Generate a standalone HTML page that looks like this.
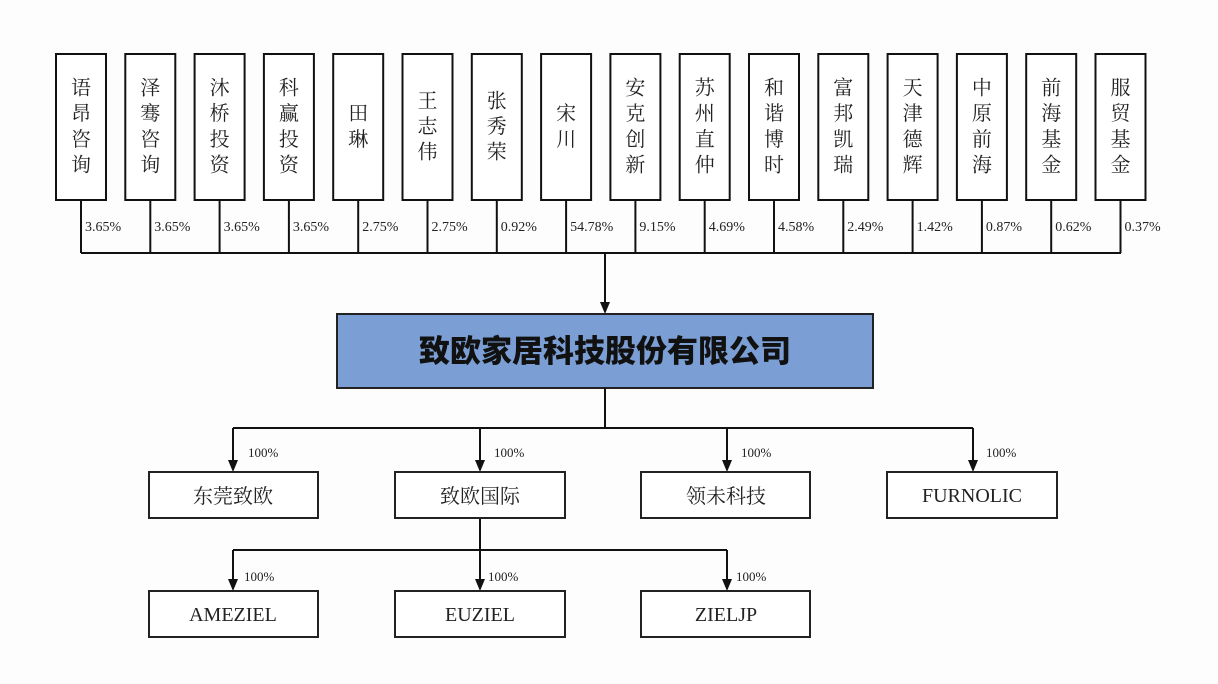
<!DOCTYPE html>
<html><head><meta charset="utf-8"><style>
html,body{margin:0;padding:0;background:#fdfdfd;}
svg{display:block;}
.t{font-family:"Liberation Serif","Noto Serif CJK SC","Noto Sans CJK SC",serif;fill:#222;}
</style></head><body>
<svg width="1218" height="684" viewBox="0 0 1218 684" xmlns="http://www.w3.org/2000/svg">
<g stroke="#111" stroke-width="2" fill="#fff" id="top"></g>
<g id="lbl"></g>
<line x1="81" y1="253" x2="1121" y2="253" stroke="#111" stroke-width="2"/>
<line x1="605" y1="253" x2="605" y2="304" stroke="#111" stroke-width="2"/>
<path d="M600,302 L610,302 L605,314 z" fill="#111"/>
<rect x="337" y="314" width="536" height="74" fill="#7b9fd5" stroke="#222" stroke-width="2"/>
<text x="605" y="362" text-anchor="middle" font-family="'Noto Sans CJK SC',sans-serif" font-weight="900" font-size="31" fill="#111">致欧家居科技股份有限公司</text>
<g stroke="#111" stroke-width="2" fill="none">
<line x1="605" y1="388" x2="605" y2="428"/>
<line x1="233" y1="428" x2="973" y2="428"/>
<line x1="233" y1="428" x2="233" y2="462"/><line x1="480" y1="428" x2="480" y2="462"/>
<line x1="727" y1="428" x2="727" y2="462"/><line x1="973" y1="428" x2="973" y2="462"/>
<line x1="480" y1="518" x2="480" y2="581"/>
<line x1="233" y1="550" x2="727" y2="550"/>
<line x1="233" y1="550" x2="233" y2="581"/><line x1="727" y1="550" x2="727" y2="581"/>
</g>
<g fill="#111">
<path d="M228,460 L238,460 L233,472 z"/><path d="M475,460 L485,460 L480,472 z"/>
<path d="M722,460 L732,460 L727,472 z"/><path d="M968,460 L978,460 L973,472 z"/>
<path d="M228,579 L238,579 L233,591 z"/><path d="M475,579 L485,579 L480,591 z"/>
<path d="M722,579 L732,579 L727,591 z"/>
</g>
<g stroke="#222" stroke-width="2" fill="#fff">
<rect x="149" y="472" width="169" height="46"/><rect x="395" y="472" width="170" height="46"/>
<rect x="641" y="472" width="169" height="46"/><rect x="887" y="472" width="170" height="46"/>
<rect x="149" y="591" width="169" height="46"/><rect x="395" y="591" width="170" height="46"/>
<rect x="641" y="591" width="169" height="46"/>
</g>
<g class="t" font-size="20" text-anchor="middle">
<text x="233" y="503">东莞致欧</text><text x="480" y="503">致欧国际</text>
<text x="726" y="503">领未科技</text><text x="972" y="502">FURNOLIC</text>
<text x="233" y="621">AMEZIEL</text><text x="480" y="621">EUZIEL</text><text x="726" y="621">ZIELJP</text>
</g>
<g class="t" font-size="13">
<text x="248" y="457">100%</text><text x="494" y="457">100%</text><text x="741" y="457">100%</text><text x="986" y="457">100%</text>
<text x="244" y="581">100%</text><text x="488" y="581">100%</text><text x="736" y="581">100%</text>
</g>
</svg>
<script>
var names=["语昂咨询","泽骞咨询","沐桥投资","科赢投资","田琳","王志伟","张秀荣","宋川","安克创新","苏州直仲","和谐博时","富邦凯瑞","天津德辉","中原前海","前海基金","服贸基金"];
var pcts=["3.65%","3.65%","3.65%","3.65%","2.75%","2.75%","0.92%","54.78%","9.15%","4.69%","4.58%","2.49%","1.42%","0.87%","0.62%","0.37%"];
var ns="http://www.w3.org/2000/svg",g=document.getElementById("top"),L=document.getElementById("lbl");
for(var i=0;i<16;i++){var cx=81+i*69.3;
var r=document.createElementNS(ns,"rect");r.setAttribute("x",cx-25);r.setAttribute("y",54);r.setAttribute("width",50);r.setAttribute("height",146);g.appendChild(r);
var l=document.createElementNS(ns,"line");l.setAttribute("x1",cx);l.setAttribute("x2",cx);l.setAttribute("y1",200);l.setAttribute("y2",253);g.appendChild(l);
var n=names[i],k=n.length,y0=126-(k-1)*12.8;
for(var j=0;j<k;j++){var t=document.createElementNS(ns,"text");t.setAttribute("class","t");t.setAttribute("x",cx);t.setAttribute("y",y0+j*25.6+7);t.setAttribute("text-anchor","middle");t.setAttribute("font-size","20");t.textContent=n[j];L.appendChild(t);}
var p=document.createElementNS(ns,"text");p.setAttribute("class","t");p.setAttribute("x",cx+4);p.setAttribute("y",231);p.setAttribute("font-size","14");p.textContent=pcts[i];L.appendChild(p);}
</script>
</body></html>
